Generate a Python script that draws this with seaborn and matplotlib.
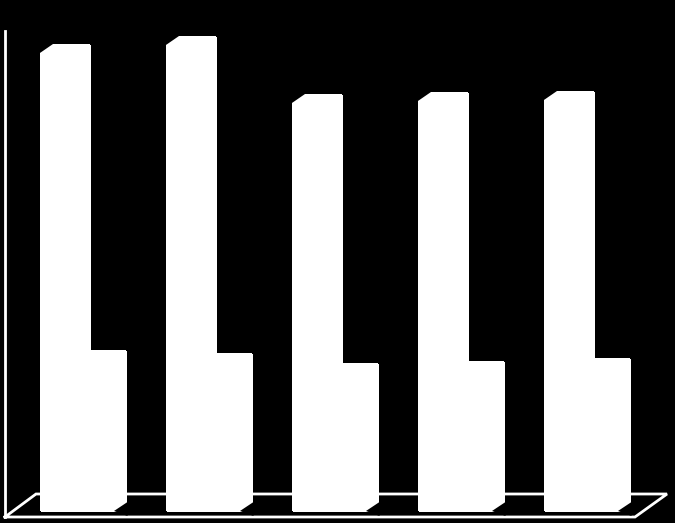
import numpy as np
import pandas as pd
import seaborn as sns
import matplotlib
matplotlib.use('Agg')
import matplotlib.pyplot as plt

# values (no labels shown in the chart)
groups = np.arange(5)
tall = [46.5, 47.3, 41.5, 41.7, 41.8]
short = [15.9, 15.6, 14.6, 14.8, 15.1]

fig = plt.figure(figsize=(6.75, 5.23), dpi=100, facecolor='black')
ax = fig.add_axes([0, 0, 1, 1])
ax.set_facecolor('black')

# pixel -> data helpers (126 px between groups, 10 px per unit)
px = 1 / 126
py = 0.1

sns.barplot(x=groups, y=tall, native_scale=True, width=48 * px, color='white',
            saturation=1, edgecolor='white', linewidth=1, errorbar=None,
            ax=ax, zorder=3, antialiased=False)
sns.barplot(x=groups + 42 * px, y=short, native_scale=True, width=36 * px,
            color='white', saturation=1, edgecolor='white', linewidth=1,
            errorbar=None, ax=ax, zorder=3, antialiased=False)

# 3D-ish chamfers
bars = list(ax.patches)
for k, b in enumerate(bars):
    x0, w, h = b.get_x(), b.get_width(), b.get_height()
    if k < len(tall):
        ax.fill([x0 - 0.02, x0 + 12 * px, x0 - 0.02], [h + 0.6, h + 0.1, h - 9 * py],
                color='black', zorder=4, lw=0)
    else:
        x1 = x0 + w
        ax.fill([x1 + 0.02, x1 - 11 * px, x1 + 0.02], [-0.6, -0.1, 8 * py],
                color='black', zorder=4, lw=0)

# floor and vertical wall edge
fx = [-60 * px, -29 * px, 602 * px, 570 * px, -60 * px]
fy = [-0.7, 1.6, 1.6, -0.7, -0.7]
ax.plot(fx, fy, color='white', lw=2, zorder=2, solid_joinstyle='miter')
ax.plot([-60 * px, -60 * px], [-0.7, 47.9], color='white', lw=2, zorder=2)

ax.set_xlim(-65 * px, 610 * px)
ax.set_ylim(-1.3, 51.0)
ax.axis('off')

fig.savefig('out.png', dpi=100, facecolor='black')
